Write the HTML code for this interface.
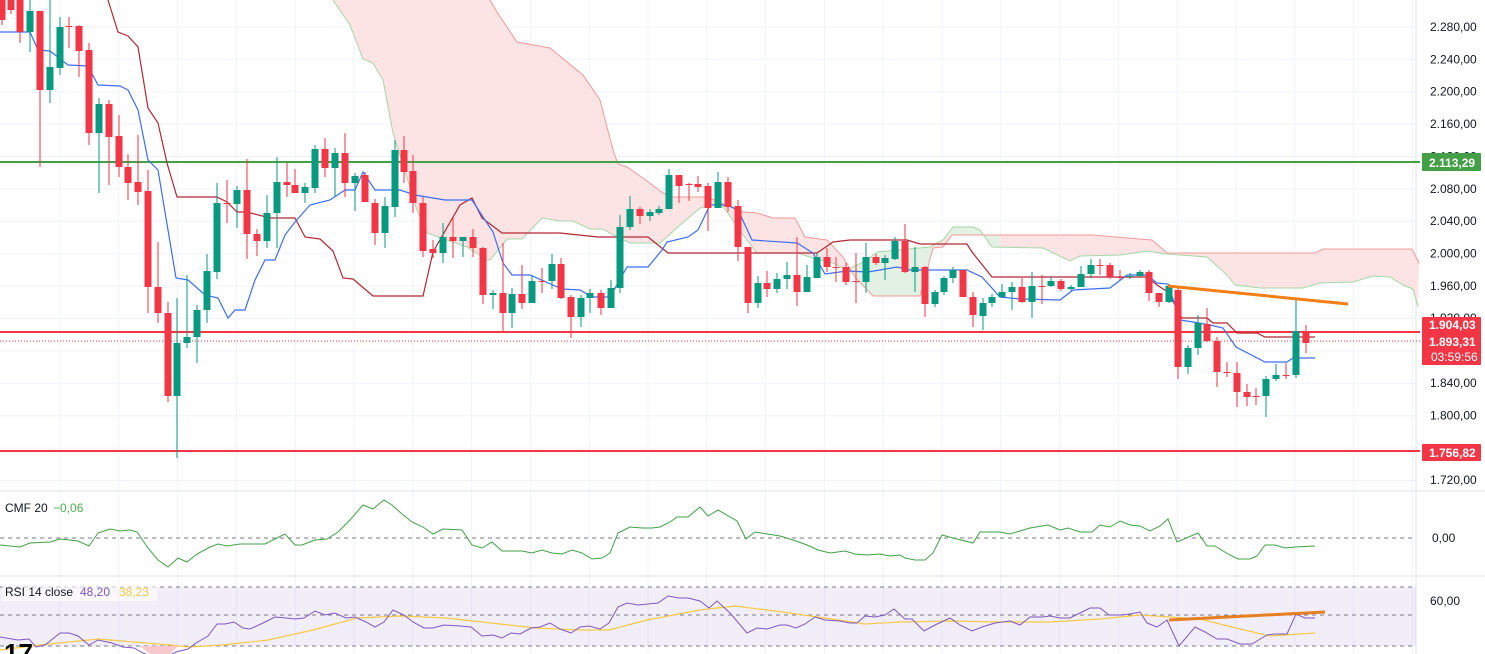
<!DOCTYPE html>
<html><head><meta charset="utf-8"><style>
html,body{margin:0;padding:0;background:#fff;width:1485px;height:654px;overflow:hidden}
svg{display:block;font-family:"Liberation Sans",sans-serif}
</style></head><body>
<svg id="s" width="1485" height="654" viewBox="0 0 1485 654" xmlns="http://www.w3.org/2000/svg">
<g id="grid" stroke="#f0f3fa" stroke-width="1"></g>
<g id="cloud"></g>
<g id="lines"></g>
<g id="candles"></g>
<g id="over"></g>
<g id="axis" font-size="12" fill="#131722"></g>
<text x="5" y="512" font-size="12" fill="#131722">CMF 20</text>
<text x="53" y="512" font-size="12" fill="#4caf50">−0,06</text>
<rect x="2" y="583" width="155" height="18" fill="#fff" opacity="0.6"/>
<text x="5" y="596" font-size="12" fill="#131722">RSI 14 close</text>
<text x="80" y="596" font-size="12" fill="#7e57c2">48,20</text>
<text x="119" y="596" font-size="12" fill="#f7c948">38,23</text>
<text x="4" y="662" font-size="26" font-weight="bold" fill="#000">17</text>
</svg>
<script>
var NS="http://www.w3.org/2000/svg";
function el(p,t,a){var e=document.createElementNS(NS,t);for(var k in a)e.setAttribute(k,a[k]);document.getElementById(p).appendChild(e);return e;}
function pts(a){return a.map(function(p){return p[0]+","+p[1]}).join(" ");}
// grid
for(var x=60;x<1416;x+=58.8)el("grid","line",{x1:x,y1:0,x2:x,y2:654});
for(var y=-5.5;y<490;y+=32.4)el("grid","line",{x1:0,y1:y,x2:1416,y2:y});
el("grid","line",{x1:1416,y1:0,x2:1416,y2:654,stroke:"#e0e3eb"});
el("grid","line",{x1:0,y1:491,x2:1485,y2:491,stroke:"#e0e3eb"});
el("grid","line",{x1:0,y1:576,x2:1485,y2:576,stroke:"#e0e3eb"});
// cloud
var A=[[333,0],[350,25],[363,59],[373,63],[383,80],[393,133],[417,210],[427,233],[467,247],[487,260],[490,260],[507,239],[522,239],[542,218],[560,221],[573,221],[590,229],[603,229],[617,237],[630,243],[660,243],[680,225],[700,208],[720,203],[727,212],[743,235],[757,253],[797,253],[813,258],[833,263],[847,270],[867,260],[877,252],[930,247],[943,240],[953,227],[973,227],[980,230],[992,247],[1043,248],[1070,261],[1080,256],[1120,255],[1147,251],[1167,254],[1207,257],[1227,275],[1235,285],[1260,288],[1303,288],[1320,283],[1353,282],[1373,276],[1390,277],[1403,285],[1413,289],[1418,307]];
var B=[[490,0],[497,12],[517,42],[550,48],[583,75],[600,100],[613,150],[618,164],[627,167],[643,178],[663,193],[673,197],[707,197],[733,208],[743,212],[757,213],[773,218],[795,218],[805,237],[827,240],[843,257],[855,277],[873,296],[920,296],[933,248],[943,247],[952,235],[1093,235],[1152,240],[1167,253],[1315,253],[1323,249],[1412,249],[1419,263]];
el("cloud","polygon",{points:pts(A.concat(B.slice().reverse())),fill:"#fde4e4"});
el("cloud","polygon",{points:pts([[847,270],[867,260],[877,252],[930,247],[933,248],[920,296],[873,296],[855,277]]),fill:"#e3f1e4"});
el("cloud","polygon",{points:pts([[943,240],[953,227],[973,227],[980,230],[992,247],[1000,247],[1000,235],[952,235]]),fill:"#e3f1e4"});
el("cloud","polyline",{points:pts(A),fill:"none",stroke:"#a5d6a7","stroke-width":1});
el("cloud","polyline",{points:pts(B),fill:"none",stroke:"#ef9a9a","stroke-width":1});
// horizontal lines
el("lines","line",{x1:0,y1:162,x2:1420,y2:162,stroke:"#43a047","stroke-width":2});
el("lines","line",{x1:0,y1:332,x2:1420,y2:332,stroke:"#f23645","stroke-width":2});
el("lines","line",{x1:0,y1:451,x2:1420,y2:451,stroke:"#f23645","stroke-width":2});
el("lines","line",{x1:0,y1:341,x2:1420,y2:341,stroke:"#f23645","stroke-width":1,"stroke-dasharray":"1,2"});
// kijun / tenkan
var K=[[108,0],[118,32],[128,36],[138,47],[148,108],[158,123],[167,163],[177,197],[217,197],[227,202],[237,212],[247,212],[270,218],[295,218],[305,237],[320,239],[333,251],[343,278],[353,279],[373,296],[423,296],[433,252],[460,205],[472,198],[482,218],[502,233],[560,233],[598,237],[648,237],[668,253],[817,253],[833,242],[850,240],[907,240],[920,244],[967,244],[972,252],[992,277],[1147,277],[1157,285],[1168,292],[1182,318],[1207,318],[1213,323],[1227,323],[1237,333],[1257,333],[1265,337],[1315,337]];
var T=[[0,32],[30,32],[38,50],[50,51],[68,65],[88,66],[98,85],[120,86],[128,90],[138,110],[148,160],[158,170],[168,230],[176,278],[188,280],[205,295],[218,298],[228,318],[235,310],[245,310],[255,280],[265,260],[275,260],[285,235],[295,222],[310,205],[330,200],[345,190],[355,190],[363,172],[375,190],[400,190],[415,195],[445,200],[472,200],[485,220],[493,232],[503,263],[512,275],[530,275],[562,289],[580,290],[592,297],[610,297],[627,267],[648,267],[662,250],[667,242],[688,237],[698,230],[710,205],[727,205],[738,210],[752,240],[797,243],[813,253],[825,274],[847,271],[868,272],[897,267],[910,270],[967,270],[982,277],[1000,297],[1020,299],[1060,300],[1073,290],[1110,288],[1127,275],[1147,275],[1157,283],[1168,284],[1180,320],[1193,322],[1210,325],[1223,328],[1236,347],[1265,362],[1287,362],[1293,358],[1315,358]];
el("lines","polyline",{points:pts(K),fill:"none",stroke:"#b22833","stroke-width":1.2});
el("lines","polyline",{points:pts(T),fill:"none",stroke:"#3d6ef5","stroke-width":1.2});
// candles: x, open, close, high, low (y pixels)
var C=[[2,0,20,0,25],[11,0,10,0,14],
[20,0,32,0,43],[30,32,11,0,52],[40,11,90,11,167],[50,90,67,0,103],[60,68,27,17,75],[69,26,26,17,48],[79,26,51,25,77],[89,50,133,43,145],[99,133,104,98,193],[109,104,137,100,185],[119,136,167,115,177],[128,167,183,154,200],[138,182,192,135,205],[148,191,287,170,313],[158,287,313,242,323],[168,313,396,302,402],[177,396,343,298,458],[187,343,337,275,348],[197,337,310,305,363],[207,310,271,254,323],[217,272,203,183,279],[227,203,204,180,223],[237,204,190,186,228],[247,190,234,159,259],[257,234,241,229,256],[267,241,213,195,248],[277,213,182,157,248],[287,182,185,163,197],[295,185,193,169,193],[305,193,187,183,203],[315,188,149,145,193],[325,149,168,138,177],[335,168,153,148,197],[345,153,183,133,197],[355,183,176,173,211],[365,175,202,172,202],[375,203,233,199,245],[385,233,206,197,248],[395,207,150,140,217],[404,150,172,136,183],[413,171,203,155,213],[423,203,251,197,257],[433,249,253,240,258],[443,253,237,223,263],[453,237,241,218,258],[463,241,237,237,257],[473,237,248,229,257],[483,248,295,247,304],[493,295,293,290,309],
[503,293,313,243,332],[512,313,294,288,328],[522,294,303,265,309],[532,303,281,275,303],[542,281,282,268,293],[552,281,264,254,289],[561,264,298,258,299],[571,297,317,295,338],[581,317,298,295,327],[590,298,293,289,313],[601,293,308,290,315],[611,308,288,280,308],[620,288,227,215,293],[630,227,209,196,230],[640,209,216,207,224],[650,216,212,209,221],[659,213,209,206,215],[669,209,175,169,209],[679,175,186,175,203],[689,184,184,183,201],[698,184,187,176,192],[708,186,208,183,231],[718,208,182,172,208],[728,182,207,177,212],[738,206,247,200,261],[748,247,303,247,313],[758,303,283,276,308],[767,283,289,271,297],[777,289,279,273,293],[787,279,275,262,289],[797,275,292,237,306],[807,292,277,265,292],[817,278,257,253,278],[827,257,267,248,272],[836,267,267,257,282],[846,267,282,263,285],[856,281,281,253,303],[866,282,257,243,293],[876,257,263,254,265],[885,263,258,255,280],[895,259,241,237,260],[905,241,272,224,273],[915,272,267,247,292],[925,267,304,266,317],[935,304,292,290,307],[944,292,278,276,295],[953,278,270,267,283],[963,270,297,270,297],[973,297,315,292,327],
[983,316,303,298,330],[992,303,297,294,307],[1002,297,292,284,298],[1012,292,287,282,310],[1022,287,302,278,303],[1032,302,286,272,318],[1042,286,286,275,304],[1051,286,281,277,287],[1061,281,289,279,291],[1071,289,287,285,291],[1081,287,274,266,287],[1091,274,265,259,278],[1100,265,265,259,275],[1110,265,277,263,279],[1120,277,277,270,280],[1130,277,276,273,279],[1140,276,272,270,277],[1149,272,293,270,301],[1159,293,302,293,307],[1169,302,286,284,303],[1178,290,367,288,379],[1188,367,348,345,374],[1198,348,323,315,355],[1207,324,341,308,342],[1217,341,372,337,387],[1227,372,372,362,377],[1237,373,392,362,407],[1247,392,397,384,406],[1256,396,396,388,405],[1266,396,379,376,417],[1276,379,375,364,381],[1286,375,375,363,379],[1296,375,331,300,378],[1306,331,343,325,353]];
C.forEach(function(c){var up=c[2]<c[1];var col=up?"#089981":"#f23645";
el("candles","line",{x1:c[0],y1:c[3],x2:c[0],y2:c[4],stroke:col,"stroke-width":1});
var t=Math.min(c[1],c[2]),h=Math.max(1,Math.abs(c[1]-c[2]));
el("candles","rect",{x:c[0]-3.5,y:t,width:7,height:h,fill:col});});
// orange trendline
el("over","line",{x1:1168,y1:286,x2:1348,y2:304,stroke:"#f57f17","stroke-width":3});
// CMF
el("over","line",{x1:0,y1:538,x2:1416,y2:538,stroke:"#787b86","stroke-dasharray":"4,4"});
var CM=[[0,545],[20,547],[30,543],[50,542],[60,539],[70,540],[78,541],[89,546],[98,533],[110,529],[120,531],[130,530],[137,532],[148,548],[158,560],[168,567],[178,558],[187,562],[197,554],[210,547],[218,544],[227,546],[240,544],[265,544],[285,534],[295,545],[302,545],[315,540],[327,539],[338,532],[350,520],[363,505],[373,509],[384,500],[392,505],[402,514],[412,522],[423,527],[433,534],[443,529],[462,530],[472,545],[482,548],[492,542],[502,551],[522,551],[532,553],[542,550],[552,553],[562,554],[572,550],[582,553],[592,559],[602,558],[610,553],[618,533],[630,527],[642,528],[652,528],[660,527],[670,522],[677,517],[688,517],[700,507],[708,516],[718,510],[737,521],[746,539],[755,532],[780,536],[796,541],[807,545],[818,550],[830,553],[845,551],[855,554],[867,555],[880,554],[890,556],[900,555],[905,558],[915,560],[925,560],[933,553],[942,535],[953,538],[973,543],[980,532],[1000,532],[1010,534],[1030,528],[1048,525],[1060,530],[1068,528],[1080,532],[1092,532],[1100,525],[1110,527],[1120,521],[1130,525],[1140,526],[1150,531],[1160,526],[1168,519],[1177,542],[1198,533],[1207,546],[1215,546],[1228,554],[1238,559],[1250,559],[1257,556],[1265,545],[1275,545],[1285,548],[1295,547],[1315,546]];
el("over","polyline",{points:pts(CM),fill:"none",stroke:"#43a047","stroke-width":1});
// RSI
el("over","rect",{x:0,y:587,width:1416,height:59,fill:"#7e57c2",opacity:"0.1"});
[587,615,646].forEach(function(y){el("over","line",{x1:0,y1:y,x2:1416,y2:y,stroke:"#787b86","stroke-dasharray":"4,4"});});
el("over","polygon",{points:"140,646 150,654 170,654 178,646",fill:"#f8c8cf"});
var RY=[[0,650],[40,645],[98,639],[134,642],[170,645],[188,647],[223,645],[268,640],[313,630],[357,618],[402,616],[446,618],[491,623],[536,628],[580,630],[609,630],[647,620],[700,610],[735,606],[775,611],[825,618],[865,624],[900,622],[950,621],[1000,622],[1050,622],[1100,619],[1140,615],[1170,617],[1200,619],[1240,629],[1270,636],[1300,634],[1315,633]];
el("over","polyline",{points:pts(RY),fill:"none",stroke:"#f7c948","stroke-width":1.2});
var R=[[0,637],[18,640],[29,639],[36,647],[45,645],[60,633],[69,633],[78,636],[89,645],[98,640],[112,643],[123,647],[134,648],[143,653],[160,660],[176,652],[188,649],[196,643],[208,636],[217,624],[225,624],[234,622],[243,628],[250,629],[263,623],[275,617],[286,618],[295,619],[304,618],[315,611],[325,615],[335,613],[346,618],[355,617],[366,622],[375,627],[384,622],[393,610],[404,615],[413,622],[424,628],[433,628],[444,625],[460,626],[471,627],[482,636],[493,635],[502,638],[511,633],[520,634],[531,628],[540,627],[550,623],[560,629],[571,633],[580,627],[589,626],[600,629],[609,623],[618,607],[627,603],[638,605],[658,603],[668,596],[679,598],[688,598],[700,601],[709,608],[717,601],[730,613],[747,633],[757,628],[767,629],[780,625],[787,625],[796,628],[805,624],[815,617],[825,620],[840,621],[850,623],[857,623],[865,616],[875,617],[885,615],[894,609],[905,619],[912,619],[924,631],[935,625],[950,618],[960,625],[972,631],[982,627],[995,623],[1010,621],[1020,625],[1030,617],[1042,617],[1050,616],[1060,618],[1070,618],[1082,612],[1090,608],[1100,608],[1109,615],[1120,615],[1130,614],[1140,612],[1147,623],[1157,627],[1167,620],[1179,646],[1195,627],[1205,632],[1217,639],[1227,639],[1240,644],[1252,644],[1267,635],[1275,634],[1287,634],[1296,614],[1305,618],[1315,618]];
el("over","polyline",{points:pts(R),fill:"none",stroke:"#7e57c2","stroke-width":1});
el("over","line",{x1:1169,y1:620,x2:1325,y2:612,stroke:"#e67e22","stroke-width":3});
// axis labels
function fmt(v){var s=v.toFixed(2).replace(".",",");var i=s.indexOf(",");var ip=s.slice(0,i);if(ip.length>3)ip=ip.slice(0,ip.length-3)+"."+ip.slice(-3);return ip+s.slice(i);}
[2320,2280,2240,2200,2160,2120,2080,2040,2000,1960,1920,1840,1800,1720].forEach(function(p){var y=27+(2280-p)*0.8089;var t=el("axis","text",{x:1430,y:y+4});t.textContent=fmt(p);});
var t0=el("axis","text",{x:1432,y:542});t0.textContent="0,00";
var t6=el("axis","text",{x:1430,y:605});t6.textContent="60,00";
el("axis","rect",{x:1422,y:153,width:59,height:18,fill:"#43a047",rx:1});
var g=el("axis","text",{x:1429,y:167,fill:"#fff","font-weight":"bold"});g.textContent="2.113,29";
el("axis","rect",{x:1422,y:317,width:59,height:48,fill:"#f23645",rx:1});
var a=el("axis","text",{x:1429,y:329,fill:"#fff","font-weight":"bold"});a.textContent="1.904,03";
var b=el("axis","text",{x:1429,y:346,fill:"#fff","font-weight":"bold"});b.textContent="1.893,31";
var c=el("axis","text",{x:1431,y:361,fill:"#fff"});c.textContent="03:59:56";
el("axis","rect",{x:1422,y:444,width:59,height:17,fill:"#f23645",rx:1});
var d=el("axis","text",{x:1429,y:457,fill:"#fff","font-weight":"bold"});d.textContent="1.756,82";
</script>
</body></html>
